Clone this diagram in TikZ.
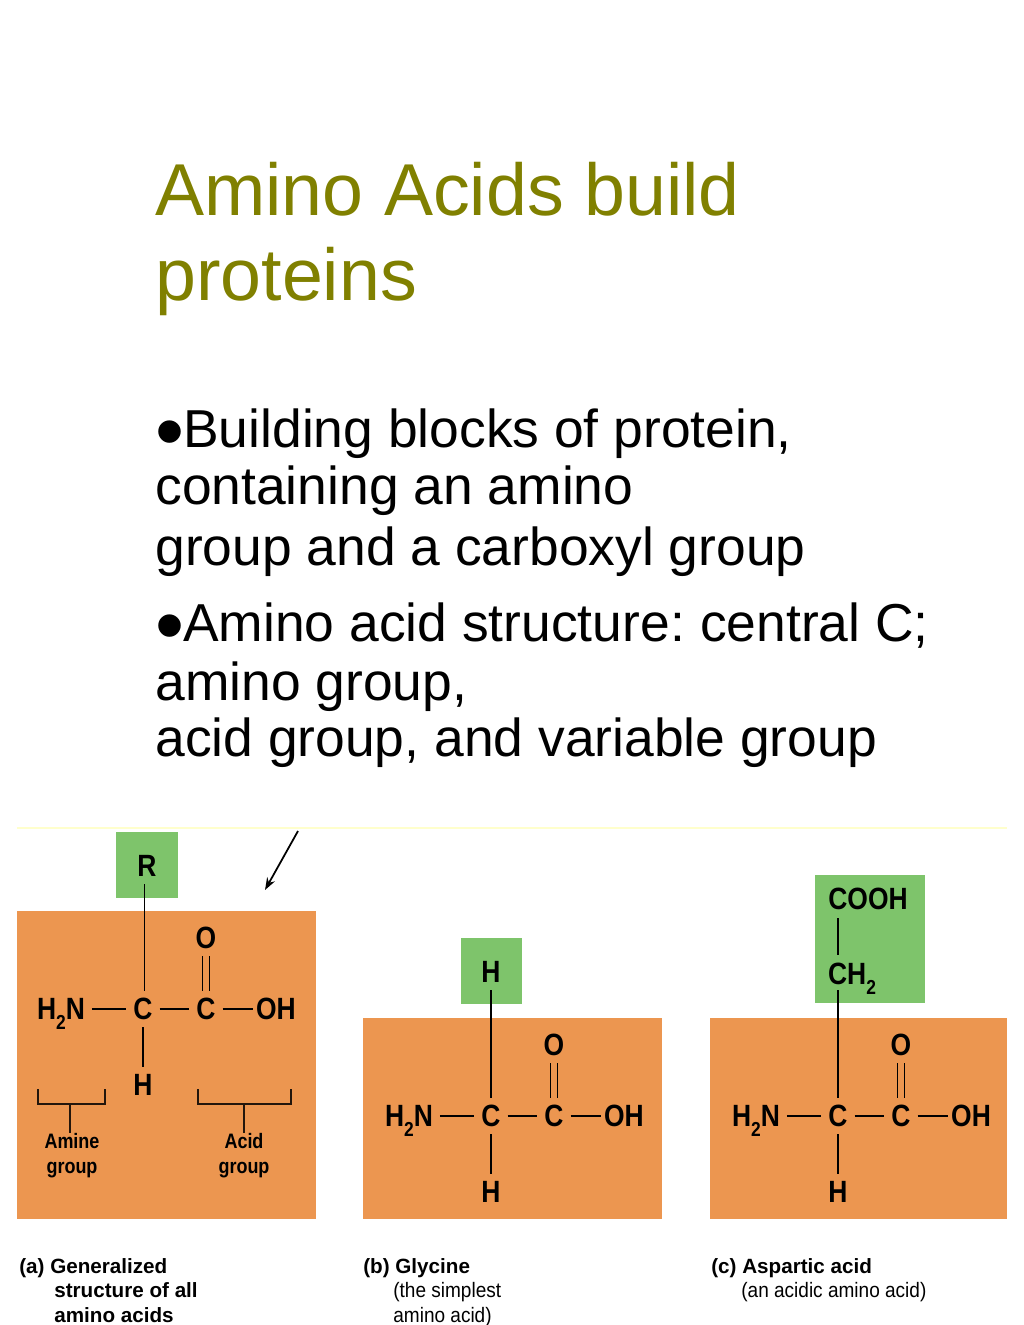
\documentclass[tikz,border=0pt]{standalone}
\usepackage{fontspec}
\setmainfont{Liberation Sans}
\newfontfamily\narrowfont[FakeStretch=.86]{Liberation Sans}
\newfontfamily\capfont[FakeStretch=.91]{Liberation Sans}
\usetikzlibrary{arrows,arrows.meta,positioning}
\definecolor{titleolive}{HTML}{808000}
\definecolor{coreorange}{HTML}{EC9650}
\definecolor{sidegreen}{HTML}{7EC46B}
\definecolor{ruleyellow}{HTML}{FFFFCC}
\newcommand{\slidebullet}{\makebox[15.9pt][l]{\smash{\raisebox{-7pt}{\scalebox{1.55}{•}}}}}
\newcommand{\subtwo}{\raisebox{-.32em}{\fontsize{11.5}{12}\selectfont 2}}
\tikzstyle{arrow} = [line width=1pt,-{Stealth[length=7pt,width=5pt]}]
\tikzstyle{title} = [anchor=base west,inner sep=0pt,text=titleolive,font=\fontsize{41.85}{44}\selectfont]
\tikzstyle{body} = [anchor=base west,inner sep=0pt,font=\fontsize{30.4}{32}\selectfont]
\tikzstyle{panel} = [fill=coreorange]
\tikzstyle{side} = [fill=sidegreen]
\tikzstyle{atom} = [inner sep=0pt,outer sep=4pt,text height=12.5pt,text depth=0pt,font=\narrowfont\bfseries\fontsize{17.5}{18}\selectfont]
\tikzstyle{bond} = [line width=.8pt]
\tikzstyle{brack} = [line width=1.5pt,black!85!coreorange]
\tikzstyle{group} = [align=center,inner sep=0pt,font=\narrowfont\bfseries\fontsize{11.9}{14.2}\selectfont]
\tikzstyle{capbold} = [anchor=base west,inner sep=0pt,font=\bfseries\fontsize{11.75}{12}\selectfont]
\tikzstyle{capnorm} = [anchor=base west,inner sep=0pt,font=\capfont\fontsize{11.9}{12}\selectfont]
\begin{document}
\begin{tikzpicture}[x=0.02cm,y=-0.02cm]
    \useasboundingbox (0,0) rectangle (1024,1325);
    % slide text
    \node[title] (title1) at (155,215) {Amino Acids build};
    \node[title] (title2) at (155,300) {proteins};
    \node[body] (line1) at (155,447) {\slidebullet Building blocks of protein,};
    \node[body] (line2) at (155,504) {containing an amino};
    \node[body] (line3) at (155,565) {group and a carboxyl group};
    \node[body] (line4) at (155,641) {\slidebullet Amino acid structure:\kern-2.5pt{} central C;};
    \node[body] (line5) at (155,700) {amino group,};
    \node[body] (line6) at (155,756) {acid group, and variable group};
    % figure
    \draw[ruleyellow,line width=1.2pt] (17,828) -- (1007,828);
    \fill[panel] (17,911) rectangle (316,1219);
    \fill[panel] (363,1018) rectangle (662,1219);
    \fill[panel] (710,1018) rectangle (1007,1219);
    \fill[side] (116,832) rectangle (178,898);
    \fill[side] (461,938) rectangle (522,1004);
    \fill[side] (815,875) rectangle (925,1003);
    \coordinate (tailA) at (298,831);
    \coordinate (tipA) at (265,890);
    \draw[arrow] (tailA) -- (tipA);
    % the same core three times
    \foreach \p/\cx/\cy in {a/143/1009,b/491/1116,c/838/1116}{
        \begin{scope}[shift={(\cx,\cy)}]
            \node[atom] (\p C) at (0,0) {C};
            \node[atom] (\p D) at (63,0) {C};
            \node[atom] (\p O) at (63,-71) {O};
            \node[atom] (\p N) at (-82,0) {H\subtwo N};
            \node[atom,outer sep=2pt] (\p H) at (133,0) {OH};
            \node[atom] (\p B) at (0,76) {H};
            \draw[bond] (\p N) -- (\p C);
            \draw[bond] (\p C) -- (\p D);
            \draw[bond] (\p D) -- (\p H);
            \draw[bond] (\p C) -- (\p B);
            \draw[bond] ([xshift=-2pt]\p O.south) -- ([xshift=-2pt]\p D.north);
            \draw[bond] ([xshift=2pt]\p O.south) -- ([xshift=2pt]\p D.north);
        \end{scope}
    }
    % side groups
    \node[atom] (R) at (147,866) {R};
    \node[atom] (glyH) at (491,972) {H};
    \node[atom] (cooh) at (868,899) {COOH};
    \node[atom] (chtwo) at (852,974) {CH\subtwo};
    \coordinate (rEnd) at (144.5,884);
    \coordinate (coohEnd) at (838,918);
    \coordinate (chtwoTop) at (838,955);
    \coordinate (chtwoEnd) at (838,990);
    \draw[bond] (rEnd) -- (rEnd |- aC.north);
    \draw[bond] (glyH) -- (bC);
    \draw[bond] (coohEnd) -- (chtwoTop);
    \draw[bond] (chtwoEnd) -- (cC);
    % group brackets
    \node[group] (amine) at (72,1156) {Amine\\group};
    \node[group] (acid) at (244,1156) {Acid\\group};
    \coordinate (amineStem) at (70,1104);
    \coordinate (acidStem) at (244,1104);
    \draw[brack] (38,1089) |- (105,1104) -- (105,1089);
    \draw[brack] (198,1089) |- (291,1104) -- (291,1089);
    \draw[brack] (amineStem) -- (amineStem |- amine.north);
    \draw[brack] (acidStem) -- (acid.north);
    % captions
    \node[capbold] (capA) at (19,1273) {(a) Generalized};
    \node[capbold] (capA2) at (54,1297) {structure of all};
    \node[capbold] (capA3) at (54,1322) {amino acids};
    \node[capbold] (capB) at (363,1273) {(b) Glycine};
    \node[capnorm] (capB2) at (393,1297) {(the simplest};
    \node[capnorm] (capB3) at (393,1322) {amino acid)};
    \node[capbold] (capC) at (711,1273) {(c) Aspartic acid};
    \node[capnorm] (capC2) at (741,1297) {(an acidic amino acid)};
\end{tikzpicture}
\end{document}
